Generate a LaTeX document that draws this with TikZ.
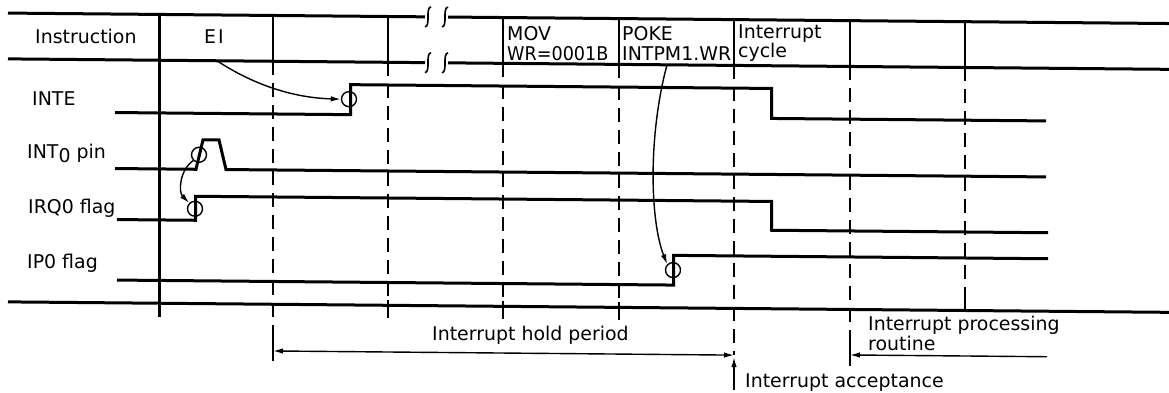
\documentclass[tikz,border=0pt]{standalone}
\usepackage{fontspec}
\setmainfont{DejaVu Sans}
\usetikzlibrary{arrows.meta}
\tikzset{brkmark/.pic={\draw[line width=1.6bp] (3,-10) .. controls (-3,-9) and (3,9) .. (-3,10);}}
\begin{document}
\begin{tikzpicture}[x=1bp,y=-1bp,
  frame/.style={line width=3bp},
  col/.style={line width=2bp},
  dsh/.style={line width=2bp, dash pattern=on 14bp off 8bp},
  wave/.style={line width=3bp, line join=miter},
  thinl/.style={line width=1.4bp},
  arr/.style={line width=1.4bp, -{Latex[length=10bp,width=5.5bp]}},
  darr/.style={line width=1.4bp, {Latex[length=10bp,width=5.5bp]}-{Latex[length=10bp,width=5.5bp]}},
  ring/.style={circle, draw, line width=1.4bp, minimum size=15bp, inner sep=0pt},
  lbl/.style={font=\fontsize{19}{20}\selectfont, inner sep=0pt, anchor=base west}
]
\useasboundingbox (0,0) rectangle (1169,392);
\begin{scope}[yslant=-0.009]
  \draw[frame] (8,13) -- (425,13);
  \draw[frame] (448,13) -- (1169,13);
  \draw[frame] (8,58.8) -- (425,58.8);
  \draw[frame] (448,58.8) -- (1169,58.8);
  \pic at (428,13) {brkmark};
  \pic at (445,13) {brkmark};
  \pic at (428,58.8) {brkmark};
  \pic at (445,58.8) {brkmark};
  \draw[frame] (8,301.8) -- (1169,301.8);
  \draw[frame] (159.5,13) -- (159.5,316);
  % column 1
  \draw[col] (273,13) -- (273,58.8);
  \draw[dsh] (273,58.8) -- (273,362.5);
  % column 2
  \draw[col] (388,13) -- (388,58.8);
  \draw[dsh] (388,58.8) -- (388,296);
  \draw[col] (388,296) -- (388,314);
  % column 3
  \draw[col] (503,13) -- (503,58.8);
  \draw[dsh] (503,58.8) -- (503,296);
  \draw[col] (503,296) -- (503,314);
  % column 4
  \draw[col] (619,13) -- (619,58.8);
  \draw[dsh] (619,58.8) -- (619,296);
  \draw[col] (619,296) -- (619,314);
  % column 5
  \draw[col] (734,13) -- (734,58.8);
  \draw[dsh] (734,58.8) -- (734,348.5);
  % column 6
  \draw[col] (850,13) -- (850,58.8);
  \draw[dsh] (850,58.8) -- (850,364);
  % column 7
  \draw[col] (965,13) -- (965,58.8);
  \draw[dsh] (965,58.8) -- (965,290);
  \draw[col] (965,290) -- (965,301.8);
  % waveforms
  \draw[wave] (115,111.5) -- (350.5,111.5) -- (350.5,81.5) -- (771.5,81.5) -- (771.5,111.5) -- (1046,111.5);
  \draw[wave] (115,167.5) -- (196,167.5) -- (203,138) -- (219,138) -- (226,167.5) -- (1046,167.5);
  \draw[wave] (117,218.5) -- (195.5,218.5) -- (195.5,194.5) -- (771.5,194.5) -- (771.5,223.3) -- (1048,223.3);
  \draw[wave] (117,279) -- (673.5,279) -- (673.5,249.3) -- (1048,249.3);
  % event circles
  \node[ring] (c1) at (349,96) {};
  \node[ring] (c2) at (199,153) {};
  \node[ring] (c3) at (195,207) {};
  \node[ring] (c4) at (673,264) {};
  % cause arrows
  \coordinate (eiA) at (217,58.8);
  \coordinate (pokeA) at (667,58.8);
  \draw[arr] (eiA) .. controls (245,77) and (285,95) .. (c1.west);
  \draw[arr] (pokeA) .. controls (648,130) and (650,215) .. (c4.north west);
  \draw[arr] (c2.south west) .. controls (180,168) and (178,190) .. (c3.north west);
  % bottom dimension arrows
  \coordinate (hL0) at (273,334.5);
  \coordinate (hL) at (273,348.5);
  \coordinate (hR) at (734,348.5);
  \draw[thinl] (hL0) -- (hL);
  \draw[darr] (hL) -- (hR);
  \coordinate (pL0) at (850,332.4);
  \coordinate (pL) at (850,347.3);
  \coordinate (pR) at (1047,347.3);
  \draw[thinl] (pL0) -- (pL);
  \draw[arr] (pR) -- (pL);
  \coordinate (aB) at (734,383.4);
  \coordinate (aT) at (734,350.5);
  \draw[arr] (aB) -- (aT);
\end{scope}
\node[lbl] (tInstr) at (35,43) {Instruction};
\node[lbl] (tEI) at (204,43) {E\kern2pt I};
\node[lbl] (tMOV) at (507,40) {MOV};
\node[lbl] (tWR) at (507,60) {\scalebox{0.93}[1]{WR=0001B}};
\node[lbl] (tPOKE) at (622,40) {POKE};
\node[lbl] (tINTPM) at (622,60) {INTPM1.WR};
\node[lbl] (tIC1) at (738,38) {Interrupt};
\node[lbl] (tIC2) at (738,57) {cycle};
\node[lbl] (tINTE) at (32,105) {INTE};
\node[lbl] (tINT0) at (27,158) {INT\raisebox{-5pt}{0} pin};
\node[lbl] (tIRQ) at (28,213) {IRQ0 flag};
\node[lbl] (tIP) at (27,268) {IP0 flag};
\node[lbl] (tHold) at (432,340) {Interrupt hold period};
\node[lbl] (tProc1) at (868,330) {Interrupt processing};
\node[lbl] (tProc2) at (868,350) {routine};
\node[lbl] (tAcc) at (745,387) {Interrupt acceptance};
\end{tikzpicture}
\end{document}
